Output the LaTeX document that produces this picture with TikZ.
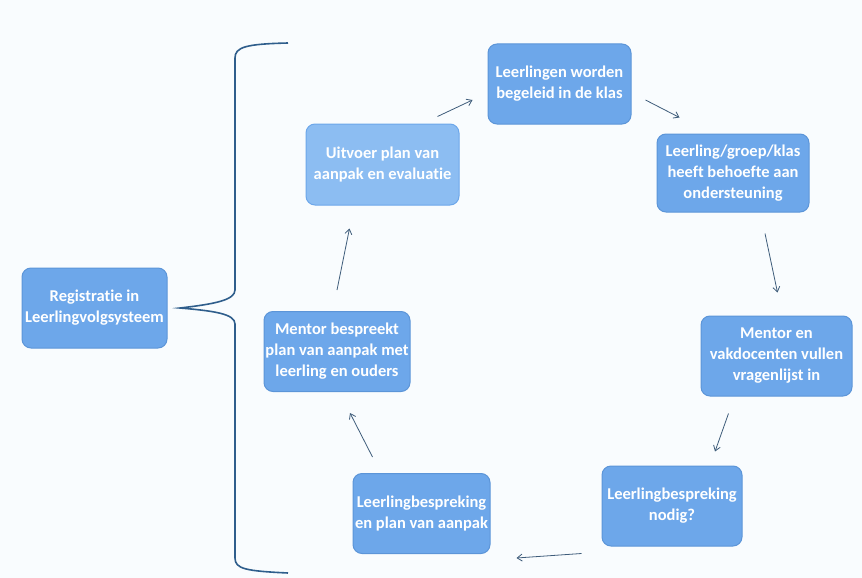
\documentclass[tikz,border=0pt]{standalone}
\usepackage{fontspec}
\setmainfont{Carlito}[Ligatures=NoCommon]
\usetikzlibrary{arrows.meta}
\definecolor{bg}{HTML}{F9FCFE}
\definecolor{boxfill}{HTML}{6DA7EA}
\definecolor{boxline}{HTML}{5C95D8}
\definecolor{lightfill}{HTML}{8CBDF2}
\definecolor{arrowc}{HTML}{3E5C7A}
\definecolor{bracec}{HTML}{2F5E8C}
\tikzset{
  stepbox/.style={draw=boxline, line width=1pt, fill=boxfill, rounded corners=9pt,
    text=white, align=center, font=\bfseries\fontsize{16.5}{21}\selectfont,
    inner sep=0pt},
  arr/.style={draw=arrowc, line width=0.8pt, -{Straight Barb[length=5pt,width=7pt]}},
}
\begin{document}
\begin{tikzpicture}[x=1pt,y=-1pt]
\fill[bg] (0,0) rectangle (862,578);
\useasboundingbox (0,0) rectangle (862,578);

\node[stepbox, minimum width=145pt, minimum height=80pt] (reg) at (94.5,308) {Registratie in\\Leerlingvolgsysteem};
\node[stepbox, fill=lightfill, draw=boxfill, minimum width=153pt, minimum height=81pt] (uit) at (382.5,164.5) {Uitvoer plan van\\aanpak en evaluatie};
\node[stepbox, minimum width=143pt, minimum height=80pt] (lw) at (559.5,84) {Leerlingen worden\\begeleid in de klas};
\node[stepbox, minimum width=152pt, minimum height=78pt] (lgk) at (733,173) {Leerling/groep/klas\\heeft behoefte aan\\ondersteuning};
\node[stepbox, minimum width=151pt, minimum height=80pt] (mv) at (776.5,356) {Mentor en\\vakdocenten vullen\\vragenlijst in};
\node[stepbox, minimum width=140pt, minimum height=80pt] (lbn) at (672,506) {Leerlingbespreking\\nodig?};
\node[stepbox, minimum width=137pt, minimum height=80pt] (lbp) at (421.5,513.5) {Leerlingbespreking\\en plan van aanpak};
\node[stepbox, minimum width=146pt, minimum height=80pt] (mb) at (337,351.5) {Mentor bespreekt\\plan van aanpak met\\leerling en ouders};

% brace
\draw[bracec, line width=1.6pt]
  (288,43) .. controls (246,44) and (235,47) .. (235,58)
  -- (235,290) .. controls (235,300) and (215,304) .. (180,308)
  .. controls (215,311) and (235,314) .. (235,324)
  -- (235,558) .. controls (235,569) and (246,571) .. (288,573);

% cycle arrows
\draw[arr] ([shift={(-22,-7)}]uit.north east) -- ([shift={(-15,16)}]lw.west);
\draw[arr] ([shift={(14,16)}]lw.east) -- ([shift={(23,-16)}]lgk.north west);
\draw[arr] ([shift={(32,21)}]lgk.south) -- ([shift={(1,-23)}]mv.north);
\draw[arr] ([shift={(-48,17)}]mv.south) -- ([shift={(43,-14)}]lbn.north);
\draw[arr] ([shift={(-20,7)}]lbn.south west) -- ([shift={(26,4)}]lbp.south east);
\draw[arr] ([shift={(-49,-16)}]lbp.north) -- ([shift={(13,21)}]mb.south);
\draw[arr] ([shift={(0,-21)}]mb.north) -- ([shift={(-33,23)}]uit.south);
\end{tikzpicture}
\end{document}
